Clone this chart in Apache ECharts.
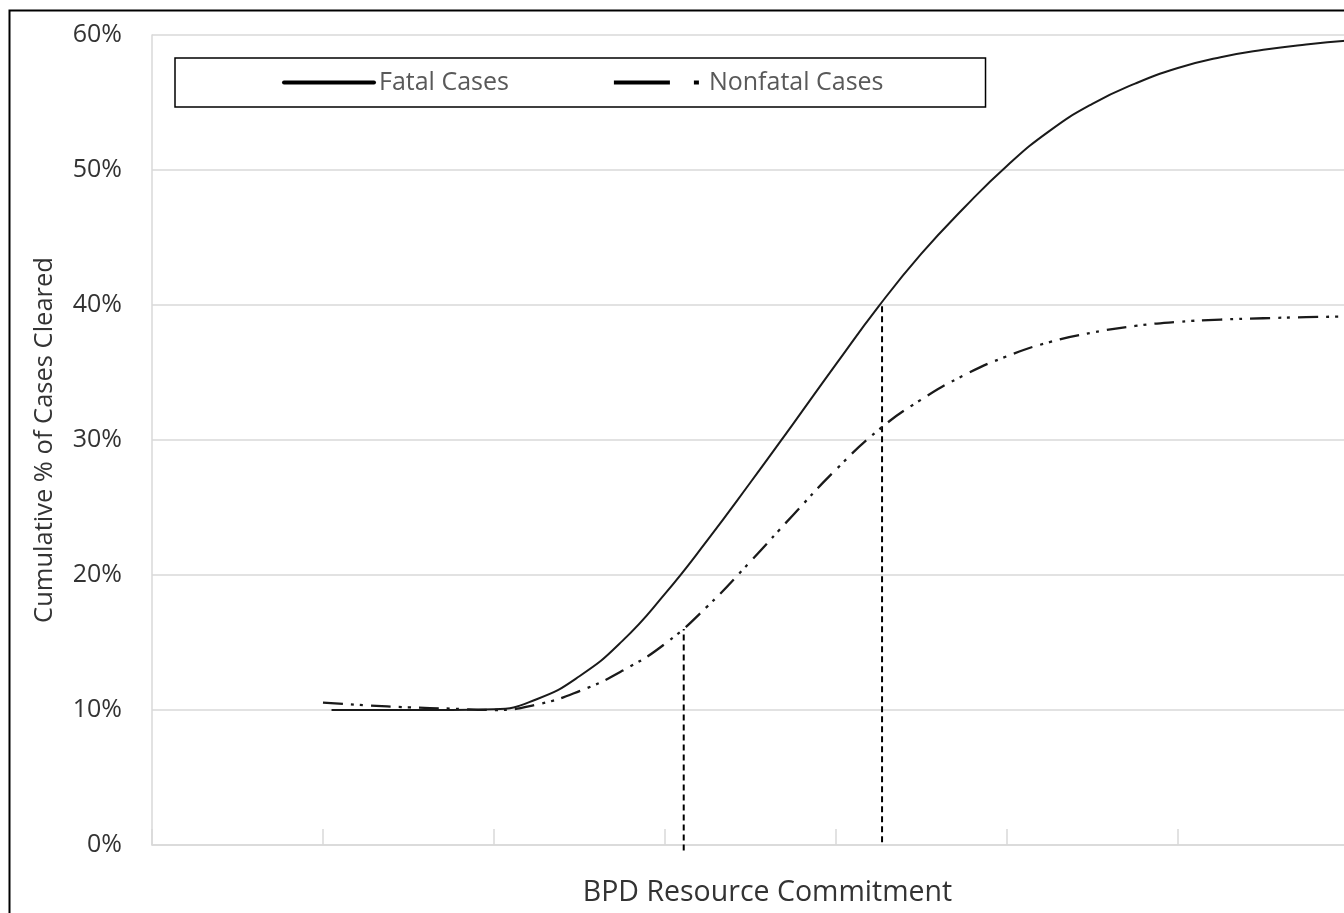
<!DOCTYPE html>
<html>
<head>
<meta charset="utf-8">
<script src="https://cdn.jsdelivr.net/npm/echarts@6/dist/echarts.min.js"></script>
<style>
html,body{margin:0;padding:0;background:#fff;overflow:hidden;width:1344px;height:913px;}
#chart{width:1400px;height:913px;}
</style>
</head>
<body>
<div id="chart"></div>
<script>
// ---- data ----
const yTicks = [0, 10, 20, 30, 40, 50, 60];
const fatalX = [1.05, 1.25, 1.5, 1.75, 2.0, 2.25, 2.5, 2.75, 3.0, 3.25, 3.5, 3.75, 4.0, 4.25, 4.5, 4.75, 5.0, 5.25, 5.5, 5.75, 6.0, 6.25, 6.5, 6.75, 7.0];
const fatalY = [10.0, 10.0, 10.0, 10.0, 10.05, 10.8, 12.5, 15.1, 18.6, 22.6, 26.85, 31.2, 35.6, 39.9, 43.8, 47.2, 50.3, 52.9, 54.9, 56.4, 57.55, 58.35, 58.9, 59.3, 59.6];
const nonfatalX = [1.0, 1.25, 1.5, 1.75, 2.0, 2.25, 2.5, 2.75, 3.0, 3.25, 3.5, 3.75, 4.0, 4.25, 4.5, 4.75, 5.0, 5.25, 5.5, 5.75, 6.0, 6.25, 6.5, 6.75, 7.0];
const nonfatalY = [10.55, 10.35, 10.2, 10.1, 10.0, 10.4, 11.4, 12.9, 14.9, 17.7, 21.0, 24.45, 27.8, 30.75, 33.0, 34.8, 36.2, 37.25, 37.95, 38.45, 38.75, 38.92, 39.02, 39.1, 39.15];
const dropX = [3.11, 4.27];
const dropBottom = [-0.4, 0.2];
const dropTop = [16.0, 40.1];
const seriesNames = ['Fatal Cases', 'Nonfatal Cases'];
const xTitle = 'BPD Resource Commitment';
const yTitle = 'Cumulative % of Cases Cleared';

const FONT = "'Open Sans', sans-serif";
const chart = echarts.init(document.getElementById('chart'), null, {renderer: 'canvas'});

const pairs = (xs, ys) => xs.map((x, i) => [x, ys[i]]);

const dropSeries = dropX.map((x, i) => ({
  type: 'line',
  name: 'drop' + i,
  data: [[x, dropBottom[i]], [x, dropTop[i]]],
  symbol: 'none',
  clip: false,
  silent: true,
  lineStyle: {color: '#000', width: 2, type: [6, 4]},
  z: 3
}));

const option = {
  animation: false,
  backgroundColor: '#fff',
  grid: {left: 152, top: 35, width: 1231, height: 810},
  legend: {
    left: 175, top: 58,
    padding: [10, 102, 10, 107],
    itemGap: 103,
    itemWidth: 90,
    itemHeight: 3,
    borderColor: '#000',
    borderWidth: 1.5,
    backgroundColor: '#fff',
    textStyle: {fontFamily: FONT, fontSize: 25, color: '#595959', lineHeight: 29},
    data: [
      {name: seriesNames[0], itemStyle: {opacity: 0}, lineStyle: {color: '#000', width: 4, type: 'solid', cap: 'round'}},
      {name: seriesNames[1], itemStyle: {opacity: 0}, lineStyle: {color: '#000', width: 4, type: [56, 24, 5, 100], cap: 'butt'}}
    ]
  },
  xAxis: {
    type: 'value',
    min: 0, max: 7.2, interval: 1,
    name: xTitle,
    nameLocation: 'middle',
    nameGap: 33,
    nameTextStyle: {fontFamily: FONT, fontSize: 28.5, color: '#333'},
    axisLine: {show: true, lineStyle: {color: '#d9d9d9', width: 1.5}},
    axisTick: {show: true, inside: true, length: 16, lineStyle: {color: '#d9d9d9', width: 1.5}},
    axisLabel: {show: false},
    splitLine: {show: false}
  },
  yAxis: {
    type: 'value',
    min: yTicks[0], max: yTicks[yTicks.length - 1], interval: 10,
    name: yTitle,
    nameLocation: 'middle',
    nameGap: 94,
    nameTextStyle: {fontFamily: FONT, fontSize: 25.5, color: '#333'},
    axisLine: {show: true, lineStyle: {color: '#d9d9d9', width: 1.5}},
    axisTick: {show: false},
    axisLabel: {fontFamily: FONT, fontSize: 25, color: '#333', margin: 30, formatter: '{value}%'},
    splitLine: {show: true, lineStyle: {color: '#d9d9d9', width: 1.5}}
  },
  graphic: [{
    type: 'rect',
    shape: {x: 9.5, y: 10.5, width: 1450, height: 1000},
    style: {fill: 'none', stroke: '#000', lineWidth: 2},
    silent: true,
    z: 100
  }],
  series: [
    {
      type: 'line', name: seriesNames[0],
      data: pairs(fatalX, fatalY),
      smooth: 0.5, symbol: 'none',
      lineStyle: {color: '#1a1a1a', width: 2},
      z: 4
    },
    {
      type: 'line', name: seriesNames[1],
      data: pairs(nonfatalX, nonfatalY),
      smooth: 0.5, symbol: 'none',
      lineStyle: {color: '#1a1a1a', width: 2.3, type: [20, 8, 3, 6, 3, 8], cap: 'butt'},
      z: 4
    }
  ].concat(dropSeries)
};
chart.setOption(option);
</script>
</body>
</html>
